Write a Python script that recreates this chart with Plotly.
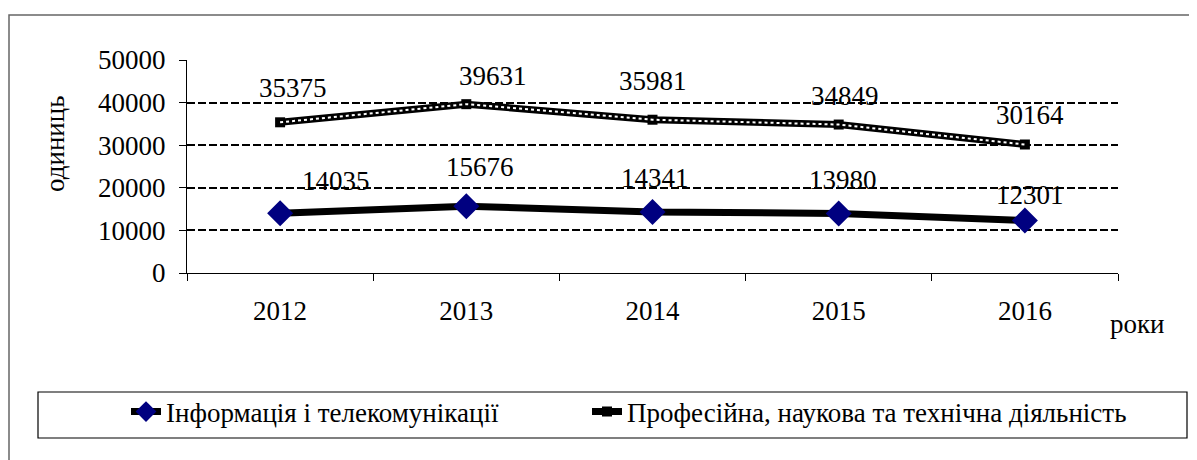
import plotly.graph_objects as go

years = ["2012", "2013", "2014", "2015", "2016"]
info_telecom = [14035, 15676, 14341, 13980, 12301]
prof_sci_tech = [35375, 39631, 35981, 34849, 30164]
name_info = "Інформація і телекомунікації"
name_prof = "Професійна, наукова та технічна діяльність"
y_title = "одиниць"
x_title = "роки"

# label offsets (px) – styling only
info_shift = [(56, 32), (14, 39), (2, 34), (4, 33), (5, 26)]
prof_shift = [(13, 34), (27, 28), (0, 39), (6, 29), (5, 30)]

FONT = "Liberation Serif, Times New Roman, serif"
FS = 27

OFF = 8  # page body margin
W, H = 1197 - OFF, 460 - OFF
L, R, T, B = 187 - OFF, 1197 - 1118, 60 - OFF, 460 - 273
pw, ph = W - L - R, H - T - B


def px_x(p):
    return (p - OFF - L) / pw


def px_y(p):
    return (H - B - (p - OFF)) / ph


def fnt():
    return dict(family=FONT, size=FS, color="black")


fig = go.Figure()

fig.add_trace(go.Scatter(
    x=years, y=info_telecom, name=name_info, mode="lines+markers",
    line=dict(color="black", width=7),
    marker=dict(symbol="diamond", size=20, color="#000080"),
    legend="legend",
))
fig.add_trace(go.Scatter(
    x=years, y=prof_sci_tech, name=name_prof, mode="lines+markers",
    line=dict(color="black", width=7),
    marker=dict(symbol="square", size=10, color="black"),
    legend="legend2",
))
fig.add_trace(go.Scatter(
    x=years, y=prof_sci_tech, name=name_prof, mode="lines",
    line=dict(color="white", width=2, dash="dot"),
    showlegend=False, hoverinfo="skip",
))

annotations = []
for i, yr in enumerate(years):
    dx, dy = info_shift[i]
    annotations.append(dict(x=i, y=info_telecom[i], text=str(info_telecom[i]),
                            showarrow=False, xshift=dx, yshift=dy, font=fnt(),
                            xanchor="center", yanchor="middle"))
    dx, dy = prof_shift[i]
    annotations.append(dict(x=i, y=prof_sci_tech[i], text=str(prof_sci_tech[i]),
                            showarrow=False, xshift=dx, yshift=dy, font=fnt(),
                            xanchor="center", yanchor="middle"))

annotations.append(dict(xref="paper", yref="paper", x=px_x(55), y=px_y(144),
                        text=y_title, textangle=-90, showarrow=False, font=fnt(),
                        xanchor="center", yanchor="middle"))
annotations.append(dict(xref="paper", yref="paper", x=px_x(1137), y=px_y(324),
                        text=x_title, showarrow=False, font=fnt(),
                        xanchor="center", yanchor="middle"))

shapes = [
    dict(type="rect", xref="paper", yref="paper",
         x0=px_x(9), x1=px_x(1215), y0=px_y(15), y1=px_y(480),
         line=dict(color="#666666", width=1.5), layer="below"),
    dict(type="rect", xref="paper", yref="paper",
         x0=px_x(38), x1=px_x(1187), y0=px_y(392), y1=px_y(438),
         line=dict(color="black", width=1.2), layer="below"),
]

fig.update_layout(
    width=W, height=H,
    margin=dict(l=L, r=R, t=T, b=B),
    paper_bgcolor="white", plot_bgcolor="white",
    font=fnt(),
    annotations=annotations, shapes=shapes,
    legend=dict(orientation="h", x=px_x(126), xanchor="left",
                y=px_y(412), yanchor="middle", font=fnt(),
                bgcolor="rgba(0,0,0,0)"),
    legend2=dict(orientation="h", x=px_x(587), xanchor="left",
                 y=px_y(412), yanchor="middle", font=fnt(),
                 bgcolor="rgba(0,0,0,0)"),
    showlegend=True,
)

fig.update_xaxes(
    type="category", range=[-0.5, 4.5], tickson="boundaries", ticks="outside", ticklen=7,
    tickcolor="black", showline=True, linecolor="black", linewidth=1,
    showgrid=False, ticklabelstandoff=14, tickfont=fnt(),
)
fig.update_yaxes(
    range=[0, 50000], dtick=10000, tickformat="d", ticks="outside", ticklen=7,
    tickcolor="black", showline=True, linecolor="black", linewidth=1,
    showgrid=True, gridcolor="black", gridwidth=2, griddash="8px,3px",
    zeroline=False, ticklabelstandoff=8, tickfont=fnt(),
)

fig.write_html("out.html")
